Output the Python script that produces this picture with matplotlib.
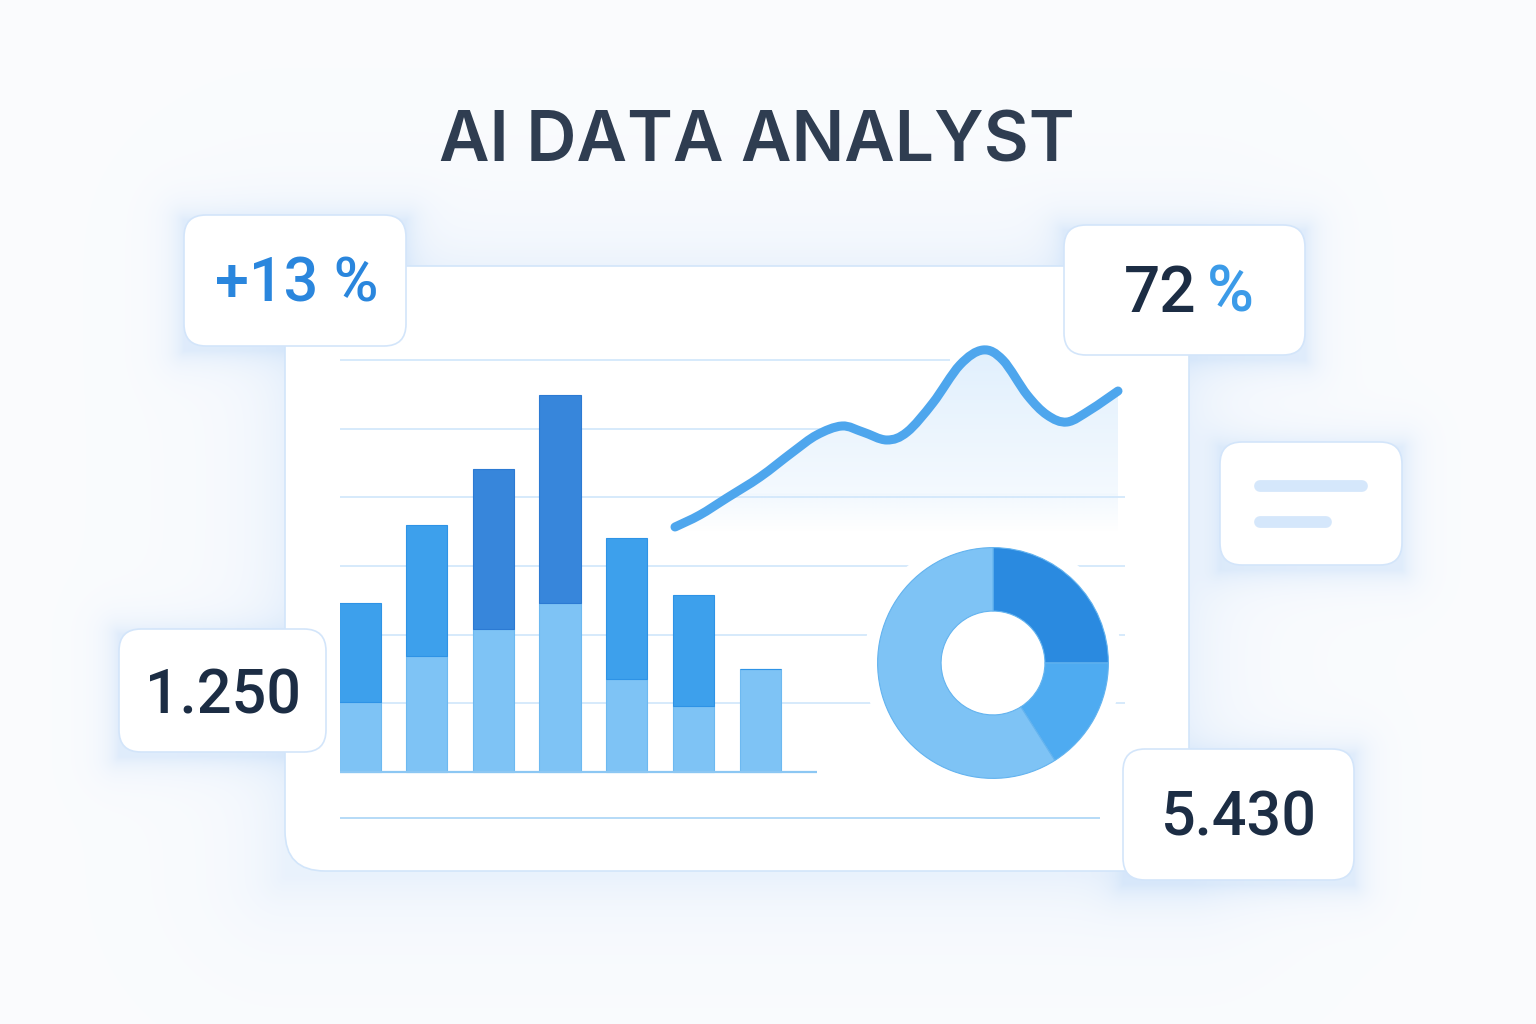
import numpy as np
import matplotlib
matplotlib.use("Agg")
import matplotlib.pyplot as plt
from matplotlib.patches import FancyBboxPatch, Circle, PathPatch
from matplotlib.path import Path

# ---- data ----
bar_lower = [10.2, 16.9, 20.8, 24.6, 13.5, 9.6, 15.0]
bar_upper = [14.4, 19.1, 23.3, 30.3, 20.6, 16.2, 0.0]
bar_tone = ["mid", "mid", "dark", "dark", "mid", "mid", "mid"]
grid_levels = [10, 20, 30, 40, 50, 60]

line_t = [0, 5.6, 11.7, 19.2, 26.6, 32, 37.7, 42.4, 47.8, 52.4,
          58.2, 64.3, 69.5, 74, 79.5, 84, 88.5, 93.7, 100]
line_v = [6.5, 12.5, 21, 31.5, 44, 52.5, 57, 54, 50, 54,
          68.5, 87.5, 95, 90, 72.5, 62.5, 59, 65, 74.5]

donut_share = [25, 16, 59]

title = "AI DATA ANALYST"
kpi_growth = "+13 %"
kpi_rate = "72"
kpi_left = "1.250"
kpi_right = "5.430"

# ---- style ----
W, H = 1536, 1024
C_LIGHT, C_MID, C_DARK = "#7ec3f5", "#3da0ec", "#3786db"
EDGE = {"light": "#6db9f1", "mid": "#2e93e6", "dark": "#2c7ad3"}
GRID = "#d3e8fb"
NAVY = "#1c2d44"
BLUE_TXT = "#2a86dd"
NUM_FONT = ["Roboto", "DejaVu Sans"]

panel = (285, 266, 1189, 871)
cards = {
    "growth": (184, 215, 406, 346),
    "rate": (1064, 225, 1305, 355),
    "lines": (1220, 442, 1402, 565),
    "left": (119, 629, 326, 752),
    "right": (1123, 749, 1354, 880),
}

fig = plt.figure(figsize=(W / 100, H / 100), dpi=100, facecolor="#fbfcfe")


def px_axes(x0, y0, x1, y1, z):
    ax = fig.add_axes([x0 / W, 1 - y1 / H, (x1 - x0) / W, (y1 - y0) / H], zorder=z)
    ax.set_facecolor("none")
    ax.axis("off")
    return ax


def smooth_path(xs, ys):
    # Catmull-Rom through the read points, drawn as cubic Bezier segments
    p = np.column_stack([xs, ys]).astype(float)
    ext = np.vstack([p[0], p, p[-1]])
    verts, codes = [p[0]], [Path.MOVETO]
    for i in range(len(p) - 1):
        a, b, c, d = ext[i], ext[i + 1], ext[i + 2], ext[i + 3]
        verts += [b + (c - a) / 6.0, c - (d - b) / 6.0, c]
        codes += [Path.CURVE4] * 3
    return verts, codes


# ---- background with soft glows ----
bg = px_axes(0, 0, W, H, 0)
bg.set_xlim(0, W)
bg.set_ylim(H, 0)
yy, xx = np.mgrid[0:H, 0:W] + 0.5


def rect_dist(r, dy=0):
    x0, y0, x1, y1 = r
    ddx = np.maximum(np.maximum(x0 - xx, xx - x1), 0)
    ddy = np.maximum(np.maximum(y0 + dy - yy, yy - y1 - dy), 0)
    return np.hypot(ddx, ddy)


keep = 1 - 0.22 * np.exp(-rect_dist(panel, 6) / 35.0)
keep *= 1 - 0.05 * np.exp(-rect_dist(panel) / 160.0)
for r in cards.values():
    keep *= 1 - 0.40 * np.exp(-rect_dist(r, 5) / 14.0)
a = (1 - keep)[..., None]
base = np.array(matplotlib.colors.to_rgb("#fbfcfe"))
tint = np.array(matplotlib.colors.to_rgb("#b9d6f7"))
bg.imshow(base * (1 - a) + tint * a, extent=[0, W, H, 0], zorder=0)

x0, y0, x1, y1 = panel
bg.add_patch(FancyBboxPatch((x0, y0), x1 - x0, y1 - y0,
                            boxstyle="round,pad=0,rounding_size=40",
                            fc="white", ec="#d2e5fa", lw=1.2, zorder=2))

bg.text(757, 162, title, ha="center", va="baseline", fontsize=50,
        family=["Inter", "DejaVu Sans"], fontweight="semibold", color="#2f3d51")

# ---- stacked bars ----
bx = px_axes(340, 340, 1125, 830, 2)
bx.set_xlim(-0.30, 11.47)
bx.set_ylim(-8.44, 62.9)
idx = np.arange(len(bar_lower))
grid_xmax = {60: 8.85, 50: 6.9}
for g in grid_levels:
    bx.hlines(g, -0.30, grid_xmax.get(g, 11.47), color=GRID, lw=1.3, zorder=1)
bx.hlines(-6.7, -0.30, 11.1, color="#b6dbf7", lw=1.4, zorder=1)
bx.hlines(0, -0.30, 6.85, color="#8cc7f3", lw=1.6, zorder=4)
bx.bar(idx, bar_lower, width=0.62, color=C_LIGHT, edgecolor=EDGE["light"],
       lw=0.8, zorder=3)
up_col = [C_DARK if t == "dark" else C_MID for t in bar_tone]
up_edge = [EDGE[t] for t in bar_tone]
bx.bar(idx, bar_upper, bottom=bar_lower, width=0.62, color=up_col,
       edgecolor=up_edge, lw=0.8, zorder=3)

# ---- trend line with gradient fill ----
lx = px_axes(675, 340, 1118, 540, 3)
lx.set_xlim(0, 100)
lx.set_ylim(0, 100)
vv = np.linspace(0, 100, 400)[:, None]
t = np.clip(0.25 + 0.45 * (vv - 23) / 72.0, 0, 1)
fill_rgb = np.array(matplotlib.colors.to_rgb("#d4e9fc"))
rgba = np.ones((400, 1, 4))
rgba[..., :3] = (1 - t[..., None]) * 1.0 + t[..., None] * fill_rgb
low = vv < 23
rgba[..., 3] = np.where(low, np.clip(0.3 * (vv - 4) / 19.0, 0, 1), 1.0)
rgba[..., :3] = np.where(low[..., None], fill_rgb, rgba[..., :3])
im = lx.imshow(rgba, extent=[0, 100, 0, 100], origin="lower", aspect="auto",
               zorder=1)
verts, codes = smooth_path(line_t, line_v)
clip = PathPatch(Path(verts + [(line_t[-1], 0), (line_t[0], 0), verts[0]],
                      codes + [Path.LINETO, Path.LINETO, Path.CLOSEPOLY]),
                 transform=lx.transData, fc="none", ec="none")
lx.add_patch(clip)
im.set_clip_path(clip)
lx.add_patch(PathPatch(Path(verts, codes), fc="none", ec="#4ea6ed", lw=6.5,
                       capstyle="round", joinstyle="round", zorder=3,
                       clip_on=False))

# ---- donut ----
dx = px_axes(873, 543, 1113, 783, 3)
dx.add_patch(Circle((0, 0), 1.12, fc="white", ec="none", zorder=0, clip_on=False))
dx.pie(donut_share, colors=["#2a8ae0", "#4eabf1", C_LIGHT], startangle=90,
       counterclock=False, radius=1.0,
       wedgeprops=dict(width=0.55, edgecolor="#63b3ef", lw=0.8))
dx.set_aspect("equal")
dx.set_xlim(-1.04, 1.04)
dx.set_ylim(-1.04, 1.04)

# ---- floating cards ----
fg = px_axes(0, 0, W, H, 10)
fg.set_xlim(0, W)
fg.set_ylim(H, 0)
for r in cards.values():
    x0, y0, x1, y1 = r
    fg.add_patch(FancyBboxPatch((x0, y0), x1 - x0, y1 - y0,
                                boxstyle="round,pad=0,rounding_size=22",
                                fc="white", ec="#d3e5fa", lw=1.2))

fg.text(297, 302, kpi_growth, ha="center", va="baseline", fontsize=44,
        family=NUM_FONT, fontweight="medium", color=BLUE_TXT)
fg.text(1196, 312, kpi_rate, ha="right", va="baseline", fontsize=46,
        family=NUM_FONT, fontweight="medium", color=NAVY)
fg.text(1207, 312, "%", ha="left", va="baseline", fontsize=46,
        family=NUM_FONT, fontweight="medium", color="#3c9be8")
fg.text(223, 713, kpi_left, ha="center", va="baseline", fontsize=44,
        family=NUM_FONT, fontweight="medium", color=NAVY)
fg.text(1239, 836, kpi_right, ha="center", va="baseline", fontsize=44,
        family=NUM_FONT, fontweight="medium", color=NAVY)
fg.plot([1260, 1362], [486, 486], color="#d5e7fb", lw=8.5, solid_capstyle="round")
fg.plot([1260, 1326], [522, 522], color="#d5e7fb", lw=8.5, solid_capstyle="round")

fig.savefig("out.png", dpi=100, facecolor=fig.get_facecolor())
